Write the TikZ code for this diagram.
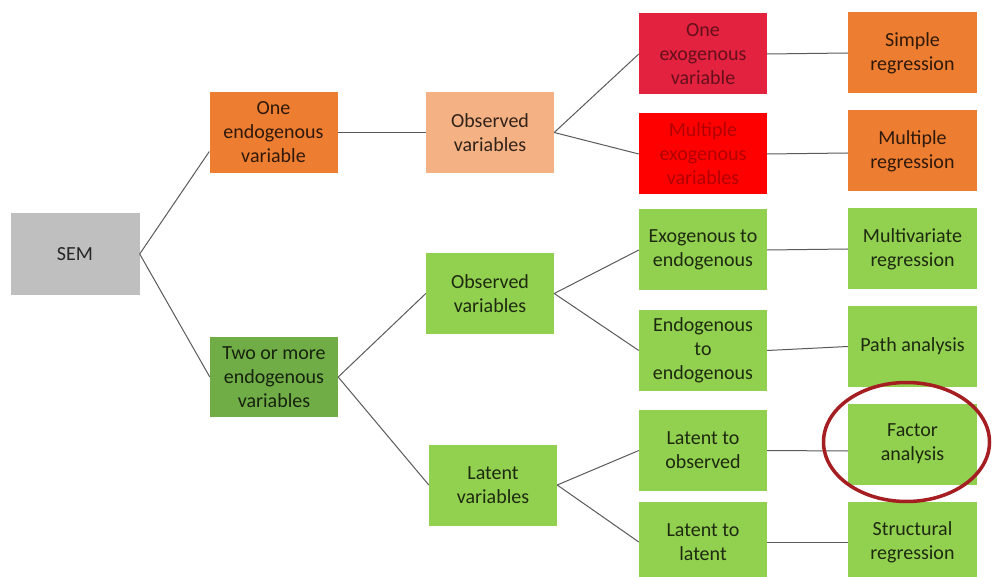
\documentclass[tikz,border=0pt]{standalone}
\usepackage{fontspec}
\setmainfont{Carlito}
\usetikzlibrary{calc}

\definecolor{semgray}{HTML}{BFBFBF}
\definecolor{orangebox}{HTML}{ED7D31}
\definecolor{peachbox}{HTML}{F4B183}
\definecolor{crimsonbox}{HTML}{E2223F}
\definecolor{redbox}{HTML}{FF0000}
\definecolor{greenbox}{HTML}{92D050}
\definecolor{darkgreenbox}{HTML}{70AD47}
\definecolor{linkgray}{HTML}{5A5A5A}
\definecolor{ringred}{HTML}{A51E22}
\definecolor{inkdark}{HTML}{262626}

\tikzset{
  box/.style={rectangle, draw=none, align=center, inner sep=0pt,
              minimum width=128pt, minimum height=81pt,
              text=inkdark, font=\fontsize{20}{24}\selectfont},
  link/.style={draw=linkgray, line width=1pt},
}

\begin{document}
\begin{tikzpicture}[x=1pt, y=-1pt]
  \clip (0,0) rectangle (993,577);
  \fill[white] (0,0) rectangle (993,577);

  % root and first level
  \node[box, fill=semgray, minimum width=129pt, minimum height=82pt] (sem) at (75,254) {SEM};
  \node[box, fill=orangebox, text=black!80!orangebox] (one) at (273.5,132.5) {One\\endogenous\\variable};
  \node[box, fill=darkgreenbox, text=black!80!darkgreenbox, minimum height=80pt] (two) at (274,377) {Two or more\\endogenous\\variables};

  % second level
  \node[box, fill=peachbox, text=black!80!peachbox] (obsA) at (490,132.5) {Observed\\variables};
  \node[box, fill=greenbox, text=black!80!greenbox] (obsB) at (490,293.5) {Observed\\variables};
  \node[box, fill=greenbox, text=black!80!greenbox] (lat) at (493,485) {Latent\\variables};

  % third level
  \node[box, fill=crimsonbox, text=black!55!crimsonbox] (exoA) at (703,54) {One\\exogenous\\variable};
  \node[box, fill=redbox, text=black!30!redbox] (exoB) at (703,154) {Multiple\\exogenous\\variables};
  \node[box, fill=greenbox, text=black!80!greenbox] (exend) at (703,250) {Exogenous to\\endogenous};
  \node[box, fill=greenbox, text=black!80!greenbox] (enend) at (703,350.5) {Endogenous\\to\\endogenous};
  \node[box, fill=greenbox, text=black!80!greenbox] (latobs) at (703,450.5) {Latent to\\observed};
  \node[box, fill=greenbox, text=black!80!greenbox] (latlat) at (703,542) {Latent to\\latent};

  % leaves
  \node[box, fill=orangebox, text=black!80!orangebox, minimum width=129pt] (simple) at (912.5,53) {Simple\\regression};
  \node[box, fill=orangebox, text=black!80!orangebox, minimum width=129pt] (multreg) at (912.5,151) {Multiple\\regression};
  \node[box, fill=greenbox, text=black!80!greenbox, minimum width=129pt] (multivar) at (912.5,249) {Multivariate\\regression};
  \node[box, fill=greenbox, text=black!80!greenbox, minimum width=129pt] (path) at (912.5,346.5) {Path analysis};
  \node[box, fill=greenbox, text=black!80!greenbox, minimum width=129pt] (factor) at (912.5,444) {Factor\\analysis};
  \node[box, fill=greenbox, text=black!80!greenbox, minimum width=129pt] (struct) at (912.5,542) {Structural\\regression};

  % connectors
  \draw[link] (sem.east) -- ([yshift=-19pt]one.west);
  \draw[link] (sem.east) -- (two.west);
  \draw[link] (one.east) -- (obsA.west);
  \draw[link] (obsA.east) -- (exoA.west);
  \draw[link] (obsA.east) -- (exoB.west);
  \draw[link] (exoA.east) -- (simple.west);
  \draw[link] (exoB.east) -- ([yshift=-2pt]multreg.west);
  \draw[link] (two.east) -- (obsB.west);
  \draw[link] (two.east) -- (lat.west);
  \draw[link] (obsB.east) -- (exend.west);
  \draw[link] (obsB.east) -- (enend.west);
  \draw[link] (exend.east) -- (multivar.west);
  \draw[link] (enend.east) -- (path.west);
  \draw[link] (lat.east) -- (latobs.west);
  \draw[link] (lat.east) -- (latlat.west);
  \draw[link] (latobs.east) -- ([yshift=-7pt]factor.west);
  \draw[link] (latlat.east) -- (struct.west);

  % highlight ring
  \draw[ringred, line width=3.5pt] (factor.center) ++(-6,-2) ellipse [x radius=83, y radius=59.5];
\end{tikzpicture}
\end{document}
